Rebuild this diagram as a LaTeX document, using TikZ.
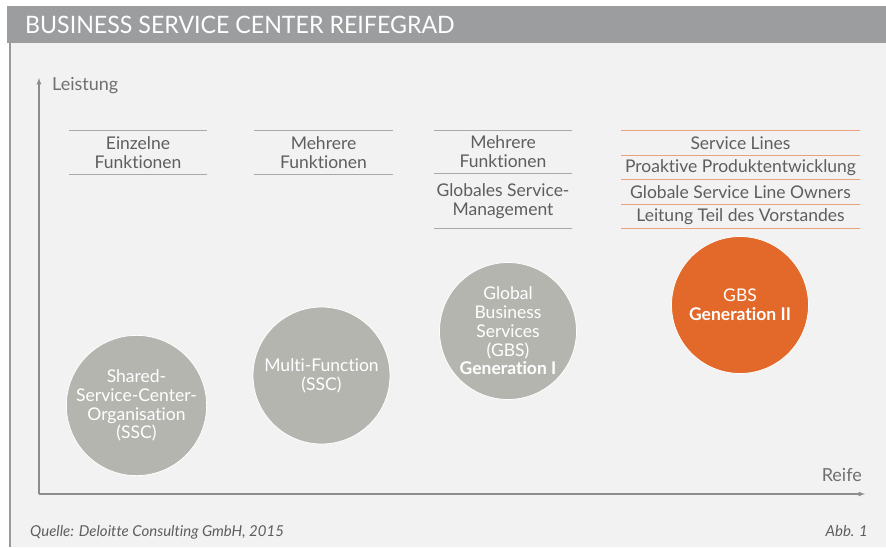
\documentclass[tikz,border=0pt]{standalone}
\usepackage{fontspec}
\setmainfont{Lato}[Ligatures=NoCommon]
\usetikzlibrary{arrows}
\usetikzlibrary{positioning}
\definecolor{titlegray}{HTML}{9C9D9E}
\definecolor{panelgray}{HTML}{F2F2F2}
\definecolor{bordergray}{HTML}{9A9A9A}
\definecolor{circlegray}{HTML}{B5B5B0}
\definecolor{gbsorange}{HTML}{E2692A}
\definecolor{lineorange}{HTML}{E9A27C}
\definecolor{textgray}{HTML}{5E5E5E}
\definecolor{axisgray}{HTML}{8C8C8C}
\tikzstyle{gray_circle} = [
    circle, 
    white, 
    draw=white, 
    fill=circlegray, 
    line width=0.8pt, 
    align=center, 
    inner sep=0pt, 
    minimum size=137pt, 
    font=\fontsize{17.5}{18.8}\selectfont
]
\tikzstyle{orange_circle} = [
    gray_circle, 
    fill=gbsorange
]
\tikzstyle{level_box} = [
    rectangle, 
    text=textgray, 
    align=center, 
    inner sep=0pt, 
    minimum width=138pt, 
    minimum height=43pt, 
    font=\fontsize{17.5}{19}\selectfont
]
\tikzstyle{gbs_box} = [
    level_box, 
    minimum width=239pt, 
    minimum height=24pt
]
\tikzstyle{gray_line} = [
    draw=bordergray!85, 
    line width=0.9pt
]
\tikzstyle{orange_line} = [
    draw=lineorange, 
    line width=0.9pt
]
\tikzstyle{axis_line} = [
    draw=axisgray, 
    line width=1.2pt, 
    -latex
]
\tikzstyle{axis_label} = [
    text=axisgray!80!black, 
    inner sep=0pt, 
    font=\fontsize{18}{20}\selectfont
]

\begin{document}
\begin{tikzpicture}[x=1pt, y=-1pt]
\useasboundingbox (0,0) rectangle (886,547);
% background and title
\fill[white] (0,0) rectangle (886,547);
\fill[titlegray] (7,6) rectangle (886,43);
\fill[panelgray] (10,43) rectangle (886,547);
\draw[bordergray, line width=1.5pt] (10,43) -- (10,547);
\node [anchor=base west, white, inner sep=0pt, xscale=0.965, transform shape, 
    font=\fontsize{24}{24}\selectfont] (title) at (25,33) {BUSINESS SERVICE CENTER REIFEGRAD};

% axes
\coordinate (origin) at (39,494);
\coordinate (ytip) at (39,78);
\coordinate (xtip) at (865,494);
\draw[axis_line] (origin) -- (ytip);
\draw[axis_line] (origin) -- (xtip);
\node [axis_label, anchor=west] (leistung) at (52,86) {Leistung};
\node [axis_label, anchor=east] (reife) at (862,475) {Reife};

% levels
\node [level_box] (einzelne) at (138,152.5) {Einzelne\\Funktionen};
\node [level_box] (mehrere) at (323.5,152.5) {Mehrere\\Funktionen};
\node [level_box] (gbsone_a) at (503,152) {Mehrere\\Funktionen};
\node [level_box, minimum height=54pt, below=0pt of gbsone_a] (gbsone_b) {Globales Service-\\Management};
\node [gbs_box] (lines) at (740.5,143) {Service Lines};
\node [gbs_box, below=0pt of lines] (proaktiv) {Proaktive Produktentwicklung};
\node [gbs_box, below=0pt of proaktiv] (owners) {Globale Service Line Owners};
\node [gbs_box, below=0pt of owners] (vorstand) {Leitung Teil des Vorstandes};
\foreach \n in {einzelne, mehrere, gbsone_a, gbsone_b}
    \draw[gray_line] (\n.north west) -- (\n.north east) (\n.south west) -- (\n.south east);
\foreach \n in {lines, proaktiv, owners, vorstand}
    \draw[orange_line] (\n.north west) -- (\n.north east) (\n.south west) -- (\n.south east);

% stages
\node [gray_circle] (ssc) at (136.5,405.5) {Shared-\\Service-Center-\\Organisation\\(SSC)};
\node [gray_circle] (multi) at (321.5,375.5) {Multi-Function\\(SSC)};
\node [gray_circle] (gbsone) at (508,331) {Global\\Business\\Services\\(GBS)\\\textbf{Generation I}};
\node [orange_circle] (gbstwo) at (740,305) {GBS\\\textbf{Generation II}};

% footer
\node [anchor=base west, inner sep=0pt, text=textgray, font=\fontsize{15}{17}\selectfont\itshape] 
    (quelle) at (30,536) {Quelle: Deloitte Consulting GmbH, 2015};
\node [anchor=base east, inner sep=0pt, text=textgray, font=\fontsize{15}{17}\selectfont\itshape] 
    (abb) at (868,536) {Abb. 1};
\end{tikzpicture}
\end{document}
